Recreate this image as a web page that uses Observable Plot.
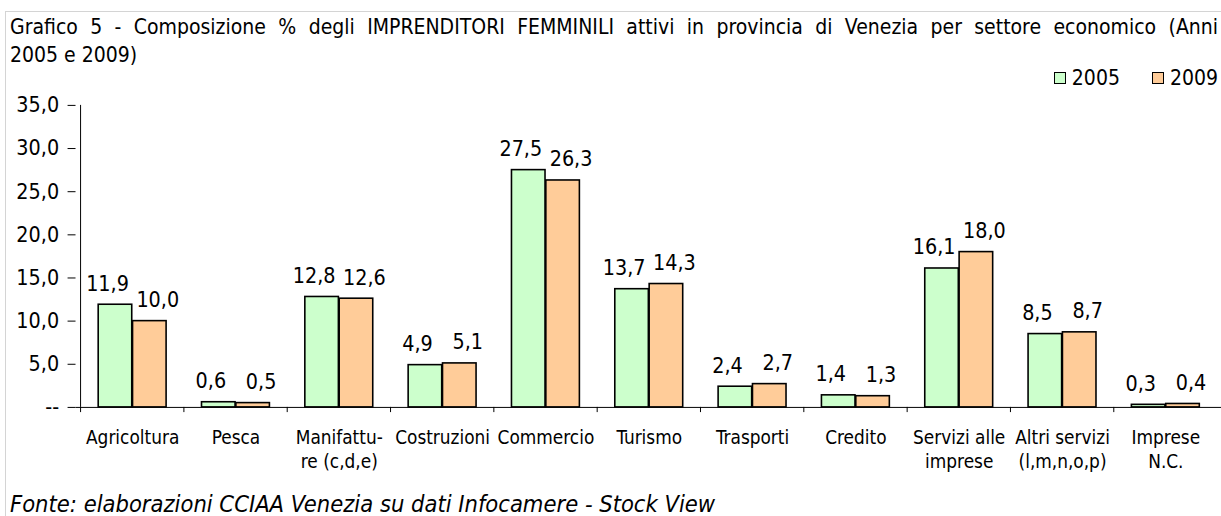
<!DOCTYPE html>
<html>
<head>
<meta charset="utf-8">
<script src="https://cdn.jsdelivr.net/npm/d3@7"></script>
<script src="https://cdn.jsdelivr.net/npm/@observablehq/plot@0.6"></script>
<style>
  html, body { margin: 0; padding: 0; background: #fff; overflow: hidden; }
  body { width: 1221px; height: 516px; position: relative; font-family: "DejaVu Sans Condensed", "DejaVu Sans", sans-serif; color: #000; }
  #border { position: absolute; left: 5px; top: 11px; width: 1300px; height: 600px; border: 1px solid #d4d4d4; box-sizing: border-box; }
  #title { position: absolute; left: 10px; top: 13px; width: 1208px; font-size: 21px; line-height: 28px; text-align: justify; }
  #legend { position: absolute; top: 66px; right: 3px; font-size: 21px; line-height: 24px; display: flex; align-items: center; }
  #legend .item { display: flex; align-items: center; margin-left: 32px; }
  #legend .sw { width: 10px; height: 10px; border: 1.5px solid #000; margin-right: 6px; }
  #chart { position: absolute; left: 0; top: 90px; }
  #footer { position: absolute; left: 10px; top: 490px; font-size: 23.5px; font-style: italic; white-space: nowrap; }
</style>
</head>
<body>
<div id="border"></div>
<div id="title">Grafico 5 - Composizione % degli IMPRENDITORI FEMMINILI attivi in provincia di Venezia per settore economico (Anni 2005&nbsp;e&nbsp;2009)</div>
<div id="legend"></div>
<div id="chart"></div>
<div id="footer">Fonte: elaborazioni CCIAA Venezia su dati Infocamere - Stock View</div>
<script>
const categories = ["Agricoltura","Pesca","Manifatture","Costruzioni","Commercio","Turismo","Trasporti","Credito","Servizi alle imprese","Altri servizi","Imprese N.C."];
const tickLabels = ["Agricoltura","Pesca","Manifattu-\nre (c,d,e)","Costruzioni","Commercio","Turismo","Trasporti","Credito","Servizi alle\nimprese","Altri servizi\n(l,m,n,o,p)","Imprese\nN.C."];
const values2005 = [11.9, 0.6, 12.8, 4.9, 27.5, 13.7, 2.4, 1.4, 16.1, 8.5, 0.3];
const values2009 = [10.0, 0.5, 12.6, 5.1, 26.3, 14.3, 2.7, 1.3, 18.0, 8.7, 0.4];
const years = ["2005", "2009"];
const colors = ["#CCFFCC", "#FFCC99"];
const yTicks = [0, 5, 10, 15, 20, 25, 30, 35];

const fmt = v => v === 0 ? "--" : d3.format(".1f")(v).replace(".", ",");

const rows = [];
categories.forEach((c, i) => {
  rows.push({cat: c, year: years[0], value: values2005[i]});
  rows.push({cat: c, year: years[1], value: values2009[i]});
});
const r2005 = rows.filter(d => d.year === years[0]);
const r2009 = rows.filter(d => d.year === years[1]);

const W = 1229, ml = 76, mr = 0;
const band = (W - ml - mr) / categories.length;
const barW = band * 0.33;
const outer = (band - 2 * barW) / 2;

const fontFam = '"DejaVu Sans Condensed", "DejaVu Sans", sans-serif';

const chart = Plot.plot({
  width: W,
  height: 390,
  marginLeft: ml,
  marginRight: mr,
  marginTop: 15,
  marginBottom: 71,
  style: {fontFamily: fontFam, fontSize: "20px", color: "#000", background: "transparent", overflow: "visible"},
  x: {type: "band", domain: categories, padding: 0, axis: null},
  y: {domain: [0, 35], axis: null},
  marks: [
    Plot.axisY({ticks: yTicks, tickFormat: fmt, tickSize: 8, tickPadding: 9, fontSize: 21.5, stroke: "#000", strokeWidth: 1, label: null}),
    Plot.barY(r2005, {x: "cat", y: "value", fill: colors[0], stroke: "#000", strokeWidth: 1.6, insetLeft: outer, insetRight: outer + barW}),
    Plot.barY(r2009, {x: "cat", y: "value", fill: colors[1], stroke: "#000", strokeWidth: 1.6, insetLeft: outer + barW, insetRight: outer}),
    Plot.ruleY([0], {stroke: "#000", strokeWidth: 1}),
    Plot.ruleX(categories, {x: d => d, y1: -0.6, y2: 0, dx: -band / 2, stroke: "#000", strokeWidth: 1}),
    Plot.ruleX([categories[0]], {x: d => d, y1: 0, y2: 35, dx: -band / 2, stroke: "#000", strokeWidth: 1}),
    Plot.text(r2005, {x: "cat", y: "value", text: d => fmt(d.value), dx: -barW / 2 - 8, dy: -21, fontSize: 21.5, fill: "#000"}),
    Plot.text(r2009, {x: "cat", y: "value", text: d => fmt(d.value), dx: barW / 2 + 8, dy: -21, fontSize: 21.5, fill: "#000"}),
    Plot.text(categories, {x: d => d, y: 0, text: (d, i) => tickLabels[i], lineAnchor: "top", dy: 20, lineHeight: 1.25, fontSize: 19, fill: "#000"})
  ]
});
document.getElementById("chart").appendChild(chart);

const leg = document.getElementById("legend");
years.forEach((y, i) => {
  const it = document.createElement("div");
  it.className = "item";
  const sw = document.createElement("div");
  sw.className = "sw";
  sw.style.background = colors[i];
  const t = document.createElement("span");
  t.textContent = y;
  it.appendChild(sw); it.appendChild(t);
  leg.appendChild(it);
});
</script>
</body>
</html>
